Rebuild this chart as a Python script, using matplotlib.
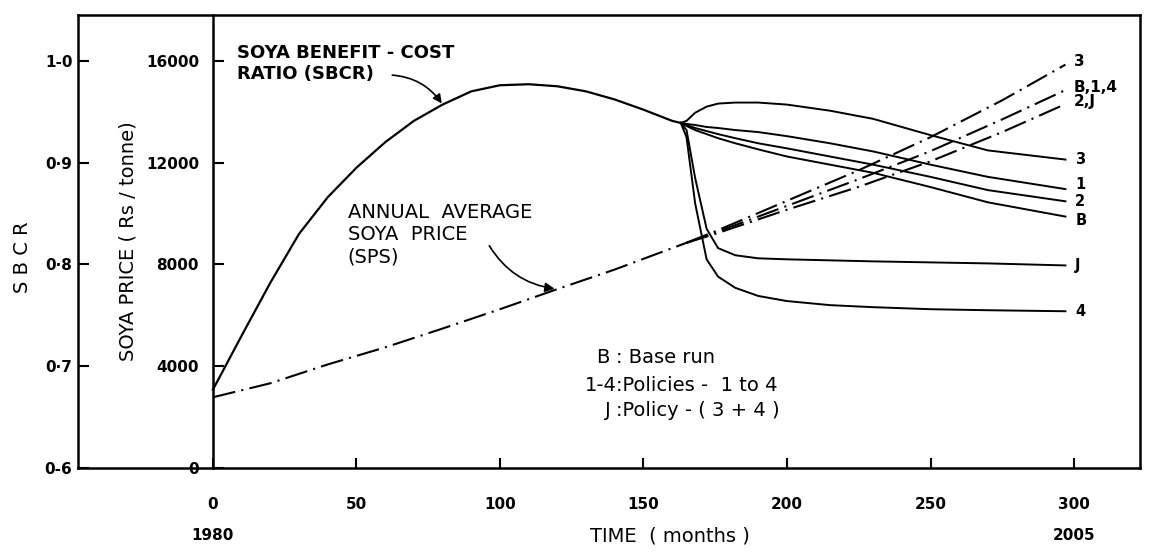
import matplotlib
matplotlib.use('Agg')
import matplotlib.pyplot as plt

# SBCR before the policies are switched on (months from 1980, ratio)
base_months = [0, 10, 20, 30, 40, 50, 60, 70, 80, 90, 100, 110, 120, 130, 140, 150, 160, 163]
base_sbcr = [0.677, 0.730, 0.782, 0.830, 0.866, 0.895, 0.920, 0.941, 0.957, 0.970,
             0.976, 0.977, 0.975, 0.970, 0.962, 0.952, 0.941, 0.939]

# SBCR for each run after month 163
run_months = [163, 165, 168, 172, 176, 182, 190, 200, 215, 230, 250, 270, 297]
run_names = ['3', '1', '2', 'B', 'J', '4']
run_sbcr = [
    [0.939, 0.941, 0.949, 0.955, 0.958, 0.959, 0.959, 0.957, 0.951, 0.943, 0.927, 0.912, 0.903],
    [0.939, 0.938, 0.937, 0.935, 0.934, 0.932, 0.930, 0.926, 0.919, 0.911, 0.898, 0.886, 0.874],
    [0.939, 0.937, 0.934, 0.931, 0.928, 0.924, 0.919, 0.914, 0.906, 0.898, 0.886, 0.873, 0.862],
    [0.939, 0.936, 0.932, 0.928, 0.924, 0.919, 0.913, 0.906, 0.898, 0.890, 0.876, 0.861, 0.847],
    [0.939, 0.932, 0.885, 0.835, 0.816, 0.809, 0.806, 0.805, 0.804, 0.803, 0.802, 0.801, 0.799],
    [0.939, 0.925, 0.860, 0.805, 0.788, 0.777, 0.769, 0.764, 0.760, 0.758, 0.756, 0.755, 0.754],
]
# small vertical nudges (points) so the stacked end labels don't collide
run_label_dy = [0, 3, 0, -3, 0, 0]

# annual average soya price (Rs / tonne)
sps_months = [0, 20, 40, 60, 80, 100, 120, 140, 165]
sps_price = [2780, 3330, 4070, 4740, 5480, 6240, 7030, 7800, 8850]

sps_run_months = [165, 175, 200, 225, 250, 275, 297]
sps_run_names = ['3', 'B,1,4', '2,J']
sps_run_price = [
    [8850, 9300, 10500, 11700, 13000, 14450, 15850],
    [8850, 9250, 10300, 11350, 12450, 13700, 14850],
    [8850, 9200, 10150, 11050, 12050, 13200, 14300],
]

month_ticks = [0, 50, 100, 150, 200, 250, 300]
month_labels = ['0\n1980', '50', '100', '150', '200', '250', '300\n2005']
sbcr_ticks = [0.6, 0.7, 0.8, 0.9, 1.0]
sbcr_labels = ['0-6', '0·7', '0·8', '0·9', '1-0']
price_ticks = [0, 4000, 8000, 12000, 16000]

legend_keys = ['B ', '1-4', 'J ']
legend_texts = [' Base run', 'Policies -  1 to 4', 'Policy - ( 3 + 4 )']

plt.rcParams['font.family'] = 'DejaVu Sans'

fig = plt.figure(figsize=(11.54, 5.54), dpi=100)
ax = fig.add_axes([0.0676, 0.1552, 0.9203, 0.8177])
xmin, xmax = -47, 323
ax.set_xlim(xmin, xmax)
ax.set_ylim(0.6, 1.045)

for s in ax.spines.values():
    s.set_linewidth(1.8)

# SBCR axis on the outer left edge
ax.set_yticks(sbcr_ticks)
ax.set_yticklabels(sbcr_labels, fontsize=11, fontweight='bold')
ax.tick_params(axis='y', direction='in', length=8, width=1.5, pad=4)
ax.set_ylabel('S B C R', fontsize=14)
ax.yaxis.set_label_coords(-0.043, 0.466)

# time axis
ax.set_xticks(month_ticks)
ax.set_xticklabels(month_labels, fontsize=11, fontweight='bold', linespacing=2.3)
ax.tick_params(axis='x', direction='in', length=7, width=1.5, pad=21)
ax.set_xlabel('TIME  ( months )', fontsize=14)
ax.xaxis.set_label_coords(0.557, -0.13)

# SBCR curves
ax.plot(base_months, base_sbcr, color='black', lw=1.6)
for name, vals, dy in zip(run_names, run_sbcr, run_label_dy):
    ax.plot(run_months, vals, color='black', lw=1.4)
    ax.annotate(name, (run_months[-1], vals[-1]), xytext=(7, dy),
                textcoords='offset points', va='center', ha='left',
                fontsize=10.5, fontweight='bold')

# price axis drawn at month 0
axp = ax.twinx()
axp.set_ylim(0, 17800)
for s in axp.spines.values():
    s.set_visible(False)
axp.yaxis.set_visible(False)

pax = axp.secondary_yaxis(-xmin / (xmax - xmin))
pax.set_yticks(price_ticks)
pax.tick_params(direction='in', length=8, width=1.5, pad=10, labelsize=11)
for lbl in pax.get_yticklabels():
    lbl.set_fontweight('bold')
pax.spines['left'].set_linewidth(1.8)
pax.set_ylabel('SOYA PRICE ( Rs / tonne)', fontsize=14, labelpad=6)

# soya price lines
dash = (11, 3, 1, 3)
axp.plot(sps_months, sps_price, color='black', lw=1.5, dashes=dash)
for name, vals in zip(sps_run_names, sps_run_price):
    axp.plot(sps_run_months, vals, color='black', lw=1.5, dashes=dash)
    axp.annotate(name, (sps_run_months[-1], vals[-1]), xytext=(6, 2),
                 textcoords='offset points', va='center', ha='left',
                 fontsize=11, fontweight='bold')

# callouts
ax.annotate('SOYA BENEFIT - COST\nRATIO (SBCR)', xy=(base_months[8], base_sbcr[8]),
            xytext=(0.150, 0.935), textcoords='axes fraction', va='top', ha='left',
            fontsize=13, fontweight='bold', linespacing=1.15,
            arrowprops=dict(arrowstyle='-|>', color='black', lw=1.2, patchA=None,
                            relpos=(0.70, 0.2), shrinkA=2, shrinkB=1,
                            connectionstyle='arc3,rad=-0.25'))
axp.annotate('ANNUAL  AVERAGE\nSOYA  PRICE\n(SPS)', xy=(sps_months[6], sps_price[6]),
             xytext=(0.254, 0.585), textcoords='axes fraction', va='top', ha='left',
             fontsize=14, linespacing=1.2,
             arrowprops=dict(arrowstyle='-|>', color='black', lw=1.2, patchA=None,
                             relpos=(0.76, 0.36), shrinkA=2, shrinkB=2,
                             connectionstyle='arc3,rad=0.25'))

# key
key_y = [0.243, 0.183, 0.126]
for k, t, y in zip(legend_keys, legend_texts, key_y):
    ax.text(0.507, y, k, transform=ax.transAxes, ha='right', va='center', fontsize=14)
    ax.text(0.507, y, ':' + t, transform=ax.transAxes, ha='left', va='center', fontsize=14)

fig.savefig('out.png', dpi=100)
